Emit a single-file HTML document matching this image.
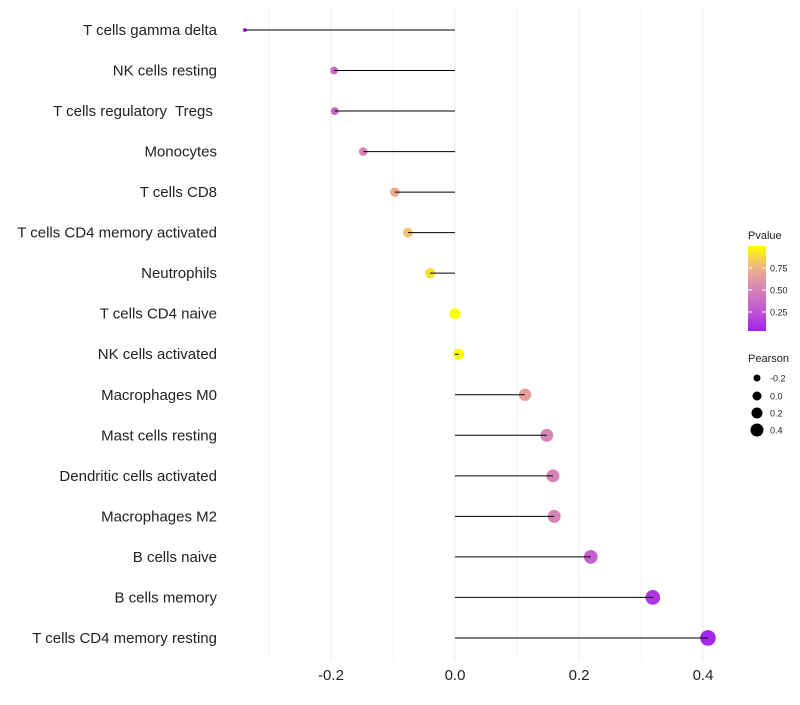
<!DOCTYPE html>
<html><head><meta charset="utf-8"><style>
body{margin:0;background:#fff;font-family:"Liberation Sans",sans-serif}
text{white-space:pre}
</style></head><body>
<svg id="c" width="800" height="700" xmlns="http://www.w3.org/2000/svg">
<defs><linearGradient id="g" x1="0" y1="1" x2="0" y2="0">
<stop offset="0" stop-color="#a020f0"/><stop offset="0.25" stop-color="#c25ad0"/><stop offset="0.5" stop-color="#d684b6"/><stop offset="0.75" stop-color="#eeb485"/><stop offset="1" stop-color="#ffff00"/></linearGradient></defs>
<g id="grid"></g><g id="marks"></g><g id="stems"></g><g id="labels"></g>
</svg>
<script>
const categories=["T cells gamma delta","NK cells resting","T cells regulatory  Tregs ","Monocytes","T cells CD8","T cells CD4 memory activated","Neutrophils","T cells CD4 naive","NK cells activated","Macrophages M0","Mast cells resting","Dendritic cells activated","Macrophages M2","B cells naive","B cells memory","T cells CD4 memory resting"];
const pearson=[-0.339,-0.195,-0.194,-0.148,-0.097,-0.076,-0.040,0.0,0.006,0.113,0.148,0.158,0.160,0.219,0.319,0.408];
const pvalue=[0.03,0.33,0.33,0.5,0.7,0.8,0.9,1.0,0.99,0.65,0.5,0.5,0.5,0.3,0.1,0.03];
const xTicks=[-0.2,0,0.2,0.4];
const xTickLabels=["-0.2","0.0","0.2","0.4"];
const xMinor=[-0.3,-0.1,0.1,0.3];
const NS="http://www.w3.org/2000/svg";
const x=v=>455+v*620;
const y=i=>30+i*40.53;
const r=v=>Math.sqrt(Math.max(3,30+76*v));
function col(p){const s=[[0,[160,32,240]],[0.25,[194,90,208]],[0.5,[214,132,182]],[0.75,[238,180,133]],[1,[255,255,0]]];
for(let k=1;k<s.length;k++){if(p<=s[k][0]){const t=(p-s[k-1][0])/(s[k][0]-s[k-1][0]);const a=s[k-1][1],b=s[k][1];return `rgb(${a.map((c,j)=>Math.round(c+(b[j]-c)*t)).join(',')})`;}}return 'rgb(255,255,0)';}
function mk(t,a,p){const e=document.createElementNS(NS,t);for(const k in a)e.setAttribute(k,a[k]);p.appendChild(e);return e;}
const G=document.getElementById('grid'),M=document.getElementById('marks'),S=document.getElementById('stems'),L=document.getElementById('labels');
xMinor.forEach(v=>{const e=mk('line',{x1:x(v),x2:x(v),y1:8,y2:660,stroke:'#f3f3f3','stroke-width':1},G);

});
xTicks.forEach((v,i)=>{const e=mk('line',{x1:x(v),x2:x(v),y1:8,y2:660,stroke:'#ebebeb','stroke-width':1},G);


const t=mk('text',{x:x(v),y:680,'text-anchor':'middle','font-size':15,fill:'#222'},L);t.textContent=xTickLabels[i];

});
categories.forEach((c,i)=>{
const t=mk('text',{x:217,y:y(i)+5,'text-anchor':'end','font-size':15,fill:'#222'},L);t.textContent=c;


const d=mk('circle',{cx:x(pearson[i]),cy:y(i),r:r(pearson[i]),fill:col(pvalue[i])},M);


const l=mk('line',{x1:x(0),x2:x(pearson[i]),y1:y(i),y2:y(i),stroke:'#000','stroke-width':1},S);

});
let t=mk('text',{x:748,y:239,'font-size':11,fill:'#222'},L);t.textContent='Pvalue';


const bar=mk('rect',{x:748,y:246,width:18,height:85,fill:'url(#g)'},L);


[[0.75,268],[0.5,290],[0.25,312]].forEach(([v,yy])=>{const s=mk('text',{x:770,y:yy+3.5,'font-size':9,fill:'#222'},L);s.textContent=v.toFixed(2);


mk('line',{x1:748,x2:752,y1:yy,y2:yy,stroke:'#fff'},L);mk('line',{x1:762,x2:766,y1:yy,y2:yy,stroke:'#fff'},L);});
t=mk('text',{x:748,y:362,'font-size':11,fill:'#222'},L);t.textContent='Pearson';


[[-0.2,378,3.5],[0,396,4.5],[0.2,413,5.5],[0.4,430,6.5]].forEach(([v,yy,rr])=>{const c=mk('circle',{cx:757,cy:yy,r:rr,fill:'#000'},L);


const s=mk('text',{x:770,y:yy+3.5,'font-size':9,fill:'#222'},L);s.textContent=v.toFixed(1);

});
</script>
</body></html>
